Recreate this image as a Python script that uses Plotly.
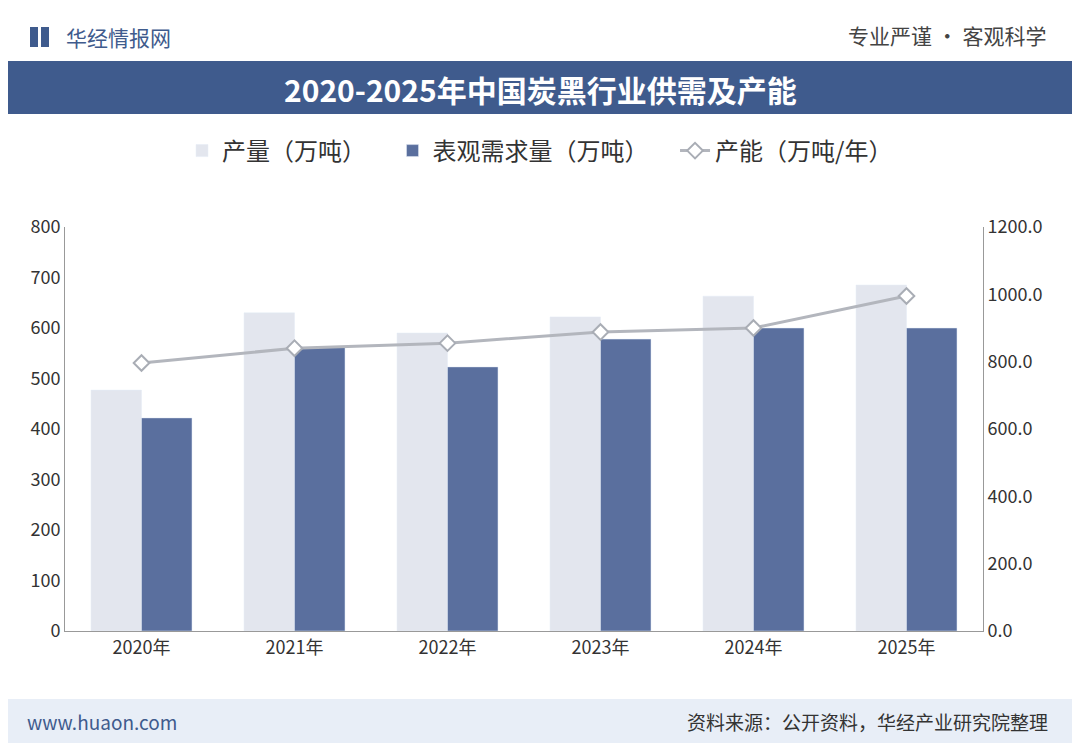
import plotly.graph_objects as go

years = ["2020年", "2021年", "2022年", "2023年", "2024年", "2025年"]
output = [477, 630, 590, 622, 663, 685]
demand = [422, 562, 523, 578, 600, 600]
capacity = [796, 840, 855, 888, 900, 995]

font = "Noto Sans CJK SC"
L, R = 57, 105
W, H = 1080 - L - R, 404  # plot area size in px
DX = 8  # paper vs page offset seen in render


def px_x(x):
    return (x - DX - L) / W


def px_y(y):
    return (630 - y) / H


fig = go.Figure()
fig.add_trace(go.Bar(x=years, y=output, name="产量（万吨）    ", marker_color="#e3e6ee"))
fig.add_trace(go.Bar(x=years, y=demand, name="表观需求量（万吨）    ", marker_color="#5a6f9e"))
fig.add_trace(go.Scatter(x=years, y=capacity, name="产能（万吨/年）", yaxis="y2",
                         mode="lines+markers",
                         line=dict(color="#b3b6bd", width=3),
                         marker=dict(symbol="diamond", size=12, color="white",
                                     line=dict(color="#a9adb5", width=2))))


def note(text, x, y, anchor, size, color):
    return dict(text=text, xref="paper", yref="paper", x=px_x(x), y=px_y(y),
                xanchor=anchor, yanchor="middle", showarrow=False,
                font=dict(size=size, color=color))


fig.update_layout(
    width=1080, height=748,
    paper_bgcolor="#ffffff", plot_bgcolor="#ffffff",
    font=dict(family=font, size=18, color="#333"),
    margin=dict(l=L, r=R, t=219, b=125),
    barmode="group", bargap=0.34, bargroupgap=0,
    legend=dict(orientation="h", x=px_x(540), xanchor="center", y=px_y(150), yanchor="middle",
                font=dict(size=24, color="#333"), traceorder="normal"),
    xaxis=dict(showline=True, linecolor="#999", ticks="", tickfont=dict(size=18)),
    yaxis=dict(range=[0, 800], dtick=100, showgrid=False, showline=True,
               linecolor="#999", tickfont=dict(size=18)),
    yaxis2=dict(range=[0, 1200], dtick=200, overlaying="y", side="right",
                showgrid=False, showline=True, linecolor="#999",
                tickformat=".1f", tickfont=dict(size=18)),
    shapes=[
        dict(type="rect", xref="paper", yref="paper", x0=px_x(8), x1=px_x(1072),
             y0=px_y(113), y1=px_y(60), fillcolor="#3f5b8d", line_width=0, layer="below"),
        dict(type="rect", xref="paper", yref="paper", x0=px_x(8), x1=px_x(1072),
             y0=px_y(742), y1=px_y(698), fillcolor="#e8eef7", line_width=0, layer="below"),
        dict(type="rect", xref="paper", yref="paper", x0=px_x(30), x1=px_x(38),
             y0=px_y(46), y1=px_y(26), fillcolor="#3f5b8d", line_width=0),
        dict(type="rect", xref="paper", yref="paper", x0=px_x(41), x1=px_x(49),
             y0=px_y(46), y1=px_y(26), fillcolor="#3f5b8d", line_width=0),
    ],
    annotations=[
        note("<b>2020-2025年中国炭黑行业供需及产能</b>", 540, 88, "center", 30, "white"),
        note("华经情报网", 64, 36, "left", 21, "#3f5b8d"),
        note("专业严谨 • 客观科学", 1048, 34, "right", 21, "#444"),
        note("www.huaon.com", 25, 720, "left", 19, "#3f5b8d"),
        note("资料来源：公开资料，华经产业研究院整理", 1050, 720, "right", 19, "#333"),
    ],
)

fig.write_html("out.html")
